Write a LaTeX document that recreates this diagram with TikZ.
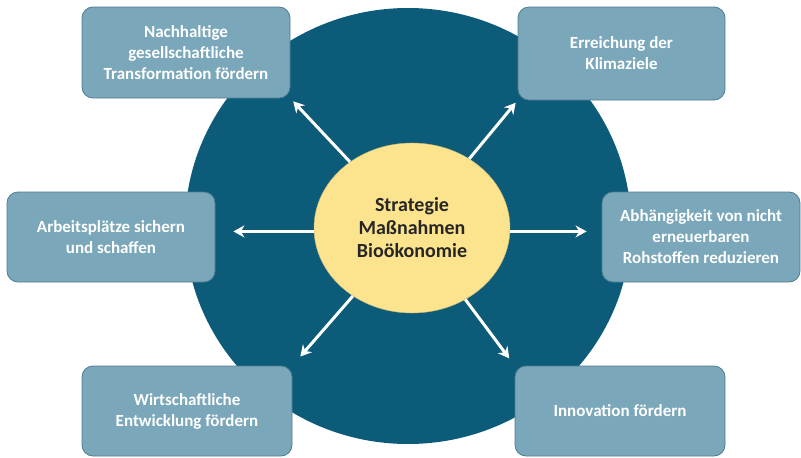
\documentclass[tikz,border=0pt]{standalone}
\usepackage{fontspec}
\setmainfont{Carlito}
\usetikzlibrary{shapes.geometric,arrows.meta}

\definecolor{discblue}{HTML}{0B5B79}
\definecolor{goalblue}{HTML}{7AA7B9}
\definecolor{goalline}{HTML}{4F7E90}
\definecolor{coreyellow}{HTML}{FCE48E}

\begin{document}
\begin{tikzpicture}[x=1pt,y=-1pt,
	goal/.style={draw=goalline,line width=0.8pt,fill=goalblue,rounded corners=11pt,text=white,align=center,
		font=\fontsize{17}{21}\selectfont\bfseries,inner sep=0pt},
	core/.style={shape=ellipse,fill=coreyellow,draw=coreyellow!80!black,line width=0.4pt,minimum width=196pt,minimum height=170pt,
		inner sep=0pt,align=center,text=black!85,font=\fontsize{20}{23}\selectfont\bfseries},
	link/.style={draw=white,line width=3pt,-{Stealth[length=11pt,width=12pt]}}]
	\useasboundingbox (0,0) rectangle (801,458);
	\node[shape=ellipse,fill=discblue,minimum width=446pt,minimum height=436pt,inner sep=0pt] (disc) at (408,226) {};

	\node[core] (ctr) at (412,228) {Strategie\\Maßnahmen\\Bioökonomie};

	\node[goal,minimum width=208pt,minimum height=91pt] (gesell) at (186,52.5) {Nachhaltige\\gesellschaftliche\\Transformation fördern};
	\node[goal,minimum width=207pt,minimum height=93pt] (klima) at (621.5,53.5) {Erreichung der\\Klimaziele};
	\node[goal,minimum width=208pt,minimum height=90pt] (arbeit) at (111,237) {Arbeitsplätze sichern\\und schaffen};
	\node[goal,minimum width=198pt,minimum height=90pt] (rohstoff) at (701,237) {Abhängigkeit von nicht\\erneuerbaren\\Rohstoffen reduzieren};
	\node[goal,minimum width=210pt,minimum height=90pt] (wirtschaft) at (187,411) {Wirtschaftliche\\Entwicklung fördern};
	\node[goal,minimum width=210pt,minimum height=90pt] (innov) at (620,411) {Innovation fördern};

	\draw[link,shorten >=4pt] (ctr) -- (gesell.south east);
	\draw[link,shorten >=3pt] (ctr) -- (klima.south west);
	\draw[link,shorten >=18pt] (ctr.182) -- (arbeit.east |- ctr.182);
	\draw[link,shorten >=15pt] (ctr.358) -- (rohstoff.west |- ctr.358);
	\draw[link,shorten >=12pt] (ctr) -- (wirtschaft.north east);
	\draw[link,shorten >=9pt] (ctr) -- (innov.north west);
\end{tikzpicture}
\end{document}
